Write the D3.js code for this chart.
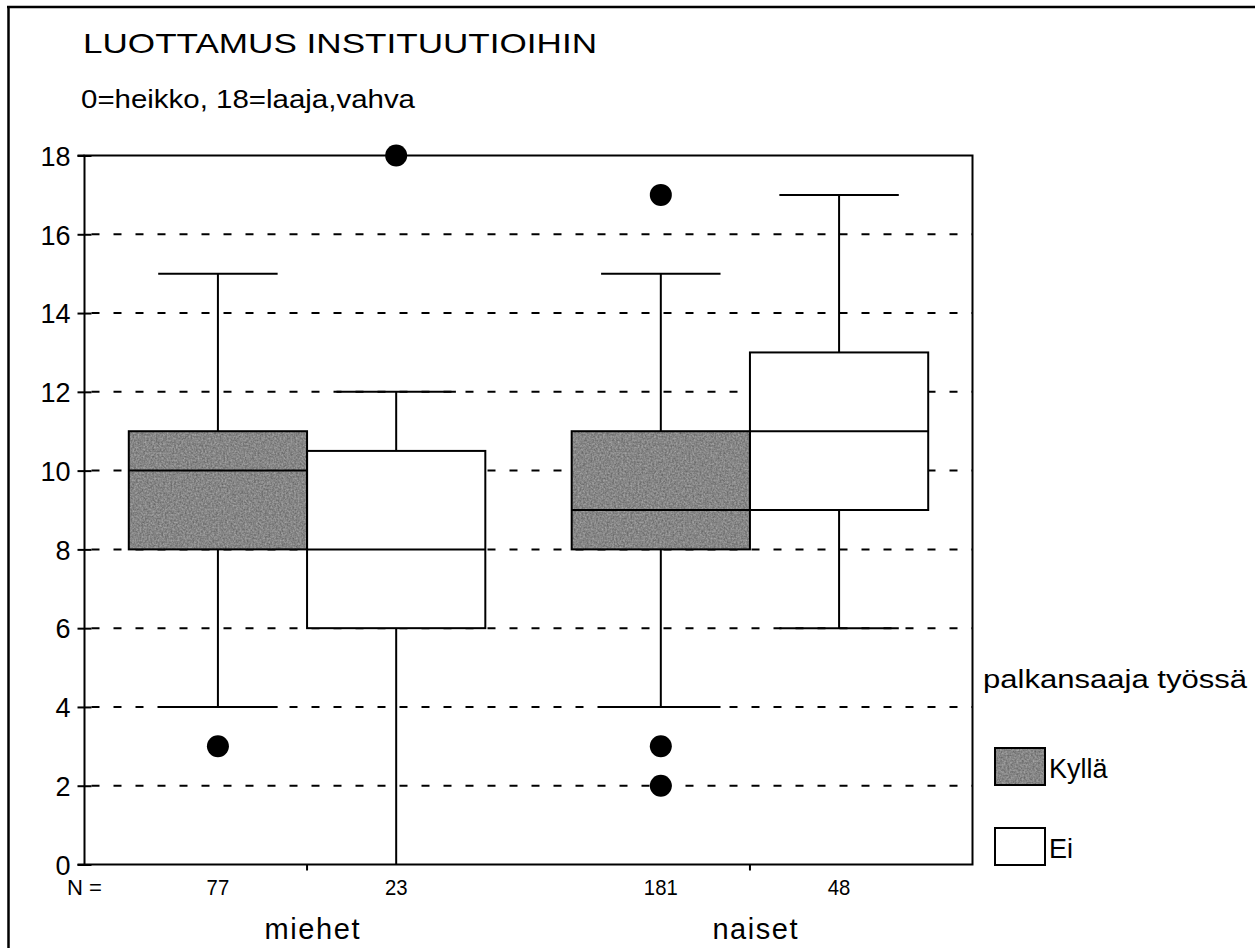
<!DOCTYPE html>
<html>
<head>
<meta charset="utf-8">
<script src="https://cdn.jsdelivr.net/npm/d3@7"></script>
<style>
  html, body { margin: 0; padding: 0; background: #fff; }
  svg { display: block; }
  text { font-family: "Liberation Sans", Arial, sans-serif; fill: #000; }
</style>
</head>
<body>
<svg id="chart" width="1255" height="948"></svg>
<script>
// Groups (sex) and employment status subgroups
const groups = ["miehet", "naiset"];
const statuses = ["Kyllä", "Ei"];

// Box statistics per group × status, in the order of `groups` then `statuses`
const boxGroup   = ["miehet", "miehet", "naiset", "naiset"];
const boxStatus  = ["Kyllä", "Ei", "Kyllä", "Ei"];
const whiskerLow = [4, 0, 4, 6];
const q1         = [8, 6, 8, 9];
const medians    = [10, 8, 9, 11];
const q3         = [11, 10.5, 11, 13];
const whiskerHigh= [15, 12, 15, 17];
const counts     = [77, 23, 181, 48];

// Outliers
const outlierGroup  = ["miehet", "miehet", "naiset", "naiset", "naiset"];
const outlierStatus = ["Kyllä", "Ei", "Kyllä", "Kyllä", "Kyllä"];
const outlierValue  = [3, 18, 17, 3, 2];

const yTicks = [0, 2, 4, 6, 8, 10, 12, 14, 16, 18];
const fills = { "Kyllä": "#888888", "Ei": "#ffffff" };

const svg = d3.select("#chart");

// mottled grey texture for the "Kyllä" fill
const defs = svg.append("defs");
const grain = defs.append("filter").attr("id", "grain")
  .attr("x", 0).attr("y", 0).attr("width", 1).attr("height", 1)
  .attr("color-interpolation-filters", "sRGB");
grain.append("feTurbulence").attr("type", "fractalNoise")
  .attr("baseFrequency", 0.55).attr("numOctaves", 2).attr("seed", 3).attr("result", "noise");
grain.append("feColorMatrix").attr("in", "noise").attr("type", "matrix")
  .attr("values", "0.35 0 0 0 0.35  0.35 0 0 0 0.35  0.35 0 0 0 0.35  0 0 0 0 1")
  .attr("result", "grey");
grain.append("feComposite").attr("in", "grey").attr("in2", "SourceAlpha").attr("operator", "in");

const plotLeft = 84.5, plotRight = 972.5, plotTop = 155.5, plotBottom = 864.5;

const y = d3.scaleLinear().domain([0, 18]).range([plotBottom, plotTop]);
const x = d3.scaleBand().domain(groups).range([plotLeft, plotRight])
  .paddingInner(0.195).paddingOuter(0.1);
const xs = d3.scaleBand().domain(statuses).range([0, x.bandwidth()]);

const boxes = boxGroup.map((g, i) => ({
  group: g, status: boxStatus[i], lo: whiskerLow[i], q1: q1[i],
  med: medians[i], q3: q3[i], hi: whiskerHigh[i], n: counts[i]
}));
const outliers = outlierGroup.map((g, i) => ({ group: g, status: outlierStatus[i], v: outlierValue[i] }));

const bx = d => x(d.group) + xs(d.status);
const cx = d => bx(d) + xs.bandwidth() / 2;

// outer frame (left and top edges)
svg.append("line").attr("x1", 8.5).attr("x2", 8.5).attr("y1", 6).attr("y2", 948)
  .attr("stroke", "#000").attr("stroke-width", 2.5);
svg.append("line").attr("x1", 7).attr("x2", 1255).attr("y1", 7).attr("y2", 7)
  .attr("stroke", "#000").attr("stroke-width", 2.5);

// titles
svg.append("text").attr("x", 83).attr("y", 53).attr("font-size", 28)
  .attr("textLength", 514).attr("lengthAdjust", "spacingAndGlyphs")
  .text("LUOTTAMUS INSTITUUTIOIHIN");
svg.append("text").attr("x", 81).attr("y", 108).attr("font-size", 25)
  .attr("textLength", 334).attr("lengthAdjust", "spacingAndGlyphs")
  .text("0=heikko, 18=laaja,vahva");

// dashed gridlines
svg.append("g").selectAll("line")
  .data(yTicks.filter(t => t > 0 && t < 18))
  .join("line")
  .attr("x1", plotLeft).attr("x2", plotRight)
  .attr("y1", d => y(d)).attr("y2", d => y(d))
  .attr("stroke", "#000").attr("stroke-width", 2)
  .attr("stroke-dasharray", "8,14").attr("stroke-dashoffset", -7);

// y axis
const yAxis = svg.append("g").attr("transform", `translate(${plotLeft},0)`)
  .call(d3.axisLeft(y).tickValues(yTicks).tickSize(7).tickPadding(8));
yAxis.select(".domain").remove();
yAxis.selectAll(".tick line").attr("x2", 7).attr("x1", -7).attr("stroke", "#000").attr("stroke-width", 2);
yAxis.selectAll(".tick text").attr("font-size", 27).attr("font-family", "Liberation Sans, Arial, sans-serif")
  .attr("x", -14).attr("dy", "0.36em");

// plot frame
svg.append("rect").attr("x", plotLeft).attr("y", plotTop)
  .attr("width", plotRight - plotLeft).attr("height", plotBottom - plotTop)
  .attr("fill", "none").attr("stroke", "#000").attr("stroke-width", 2);
svg.append("line").attr("x1", plotLeft - 7).attr("x2", plotLeft).attr("y1", plotTop).attr("y2", plotTop)
  .attr("stroke", "#000").attr("stroke-width", 2);
svg.append("line").attr("x1", plotLeft - 7).attr("x2", plotLeft).attr("y1", plotBottom).attr("y2", plotBottom)
  .attr("stroke", "#000").attr("stroke-width", 2);

// x axis ticks between the status boxes of each group
svg.append("g").selectAll("line").data(groups).join("line")
  .attr("x1", d => x(d) + xs.bandwidth()).attr("x2", d => x(d) + xs.bandwidth())
  .attr("y1", plotBottom).attr("y2", plotBottom + 6)
  .attr("stroke", "#000").attr("stroke-width", 2);

// whiskers
const w = svg.append("g");
w.selectAll(".stem").data(boxes).join("line")
  .attr("x1", cx).attr("x2", cx)
  .attr("y1", d => y(d.lo)).attr("y2", d => y(d.hi))
  .attr("stroke", "#000").attr("stroke-width", 2);
const capW = xs.bandwidth() * 0.67;
w.selectAll(".capHi").data(boxes).join("line")
  .attr("x1", d => cx(d) - capW / 2).attr("x2", d => cx(d) + capW / 2)
  .attr("y1", d => y(d.hi)).attr("y2", d => y(d.hi))
  .attr("stroke", "#000").attr("stroke-width", 2);
w.selectAll(".capLo").data(boxes.filter(d => d.lo > 0)).join("line")
  .attr("x1", d => cx(d) - capW / 2).attr("x2", d => cx(d) + capW / 2)
  .attr("y1", d => y(d.lo)).attr("y2", d => y(d.lo))
  .attr("stroke", "#000").attr("stroke-width", 2);

// boxes: fill (textured for grey) then outline
const boxG = svg.append("g");
boxG.selectAll(".fill").data(boxes).join("rect")
  .attr("x", bx).attr("width", xs.bandwidth())
  .attr("y", d => y(d.q3)).attr("height", d => y(d.q1) - y(d.q3))
  .attr("fill", d => fills[d.status])
  .attr("filter", d => d.status === "Kyllä" ? "url(#grain)" : null);
boxG.selectAll(".outline").data(boxes).join("rect")
  .attr("x", bx).attr("width", xs.bandwidth())
  .attr("y", d => y(d.q3)).attr("height", d => y(d.q1) - y(d.q3))
  .attr("fill", "none").attr("stroke", "#000").attr("stroke-width", 2);

// medians
svg.append("g").selectAll("line").data(boxes).join("line")
  .attr("x1", bx).attr("x2", d => bx(d) + xs.bandwidth())
  .attr("y1", d => y(d.med)).attr("y2", d => y(d.med))
  .attr("stroke", "#000").attr("stroke-width", 2);

// outliers
svg.append("g").selectAll("circle").data(outliers).join("circle")
  .attr("cx", cx).attr("cy", d => y(d.v)).attr("r", 11).attr("fill", "#000");

// counts under the axis
svg.append("text").attr("x", 67).attr("y", 895).attr("font-size", 22)
  .attr("textLength", 35).attr("lengthAdjust", "spacingAndGlyphs").text("N =");
svg.append("g").selectAll("text").data(boxes).join("text")
  .attr("x", cx).attr("y", 895).attr("text-anchor", "middle").attr("font-size", 22)
  .attr("textLength", d => String(d.n).length * 11.3).attr("lengthAdjust", "spacingAndGlyphs")
  .text(d => d.n);

// group labels
svg.append("g").selectAll("text").data(groups).join("text")
  .attr("x", d => x(d) + x.bandwidth() / 2 + 5).attr("y", 939)
  .attr("text-anchor", "middle").attr("font-size", 29)
  .attr("textLength", d => d === "miehet" ? 95 : 85).attr("lengthAdjust", "spacing")
  .text(d => d);

// legend
svg.append("text").attr("x", 983).attr("y", 688).attr("font-size", 25)
  .attr("textLength", 264).attr("lengthAdjust", "spacingAndGlyphs")
  .text("palkansaaja työssä");
const lg = svg.append("g").selectAll("g").data(statuses).join("g")
  .attr("transform", (d, i) => `translate(995,${748 + i * 80})`);
lg.append("rect").attr("width", 50).attr("height", 37)
  .attr("fill", d => fills[d])
  .attr("filter", d => d === "Kyllä" ? "url(#grain)" : null);
lg.append("rect").attr("width", 50).attr("height", 37)
  .attr("fill", "none").attr("stroke", "#000").attr("stroke-width", 2);
lg.append("text").attr("x", 54).attr("y", 30).attr("font-size", 27).text(d => d);
</script>
</body>
</html>
